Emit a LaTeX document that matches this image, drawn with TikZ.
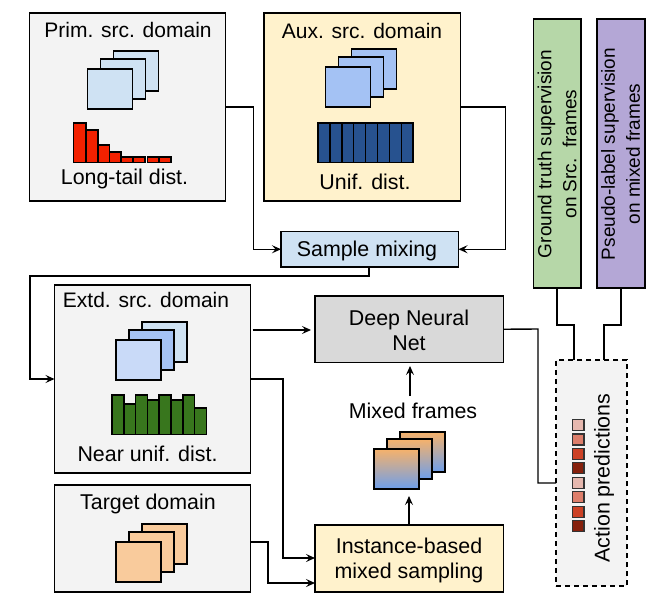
\documentclass[tikz,border=0pt]{standalone}
\usepackage{fontspec}
\setmainfont{Liberation Sans}
\usetikzlibrary{arrows.meta}
\definecolor{panelgrey}{HTML}{F3F3F3}
\definecolor{paleyellow}{HTML}{FFF2CC}
\definecolor{paleblue}{HTML}{CFE2F3}
\definecolor{midblue}{HTML}{A4C2F4}
\definecolor{lightblue}{HTML}{C9DAF8}
\definecolor{peach}{HTML}{F9CB9C}
\definecolor{netgrey}{HTML}{D9D9D9}
\definecolor{softgreen}{HTML}{B6D7A8}
\definecolor{softpurple}{HTML}{B4A7D6}
\definecolor{barred}{HTML}{F32100}
\definecolor{barblue}{HTML}{27528F}
\definecolor{bargreen}{HTML}{38761D}
\definecolor{gradtop}{HTML}{F6B26B}
\definecolor{gradbot}{HTML}{6D9EEB}
\definecolor{predA}{HTML}{E6B8AF}
\definecolor{predB}{HTML}{DD7E6B}
\definecolor{predC}{HTML}{CC4125}
\definecolor{predD}{HTML}{85200C}
\tikzset{
  panel/.style={draw=black,line width=1.5pt,rectangle,inner sep=0pt,outer sep=0pt,align=center},
  frameimg/.style={draw=black,line width=1.5pt},
  barline/.style={draw=black,line width=1.5pt},
  lbl/.style={font=\fontsize{21.4}{25}\selectfont,inner sep=0pt,align=center,text=black},
  domlbl/.style={font=\fontsize{21}{25}\selectfont,inner sep=0pt,align=center,text=black},
  sidelbl/.style={font=\fontsize{19}{25}\selectfont,inner sep=0pt,align=center,text=black,rotate=90},
  link/.style={draw=black,line width=1.4pt,line join=miter},
  linkto/.style={link,-{Stealth[length=9pt,width=8pt,inset=3.5pt]}},
}
\newcommand{\bx}[6]{%
  \pgfmathsetmacro{\bxw}{#4-#2}\pgfmathsetmacro{\bxh}{#5-#3}%
  \node[panel,minimum width=\bxw pt,minimum height=\bxh pt,#6] (#1) at ({(#2+#4)/2},{(#3+#5)/2}) {};}
\newcommand{\stk}[6]{% front x, y, colours back, mid, front, extra
  \path[frameimg,fill=#3,#6] (#1+26,#2-18) rectangle ++(45,40);
  \path[frameimg,fill=#4,#6] (#1+13,#2-10) rectangle ++(45,40);
  \path[frameimg,fill=#5,#6] (#1,#2) rectangle ++(45,40);}
\begin{document}
\begin{tikzpicture}[x=1pt,y=-1pt]
\useasboundingbox (0,0) rectangle (660,604);
% panels
\bx{prim}{29.5}{13}{225.5}{201}{fill=panelgrey}
\bx{aux}{264}{13}{460.5}{201}{fill=paleyellow}
\bx{mix}{281}{231.5}{458.5}{267}{fill=paleblue}
\bx{gt}{533.5}{19}{581}{288}{fill=softgreen}
\bx{pl}{597}{19}{645}{288}{fill=softpurple}
\bx{ext}{54.5}{285}{250.5}{473}{fill=panelgrey}
\bx{tgt}{54.5}{485}{250.5}{592}{fill=panelgrey}
\bx{dnn}{315}{296}{503.5}{362.5}{fill=netgrey}
\bx{ins}{315}{525}{503.5}{592}{fill=paleyellow}
\bx{act}{556}{360}{627}{586}{fill=panelgrey,dashed,dash pattern=on 5pt off 4pt}
% labels
\node[domlbl] (tprim) at (128,30) {Prim. src. domain};
\node[lbl] (tlong) at (124.5,179) {Long-tail dist.};
\node[domlbl] (taux) at (362,31) {Aux. src. domain};
\node[lbl] (tunif) at (365,182) {Unif. dist.};
\node[lbl] (tmix) at (367,251) {Sample mixing};
\node[sidelbl] (tgt1) at (557,154) {Ground truth supervision\\on Src.\ \ frames};
\node[sidelbl] (tpl1) at (620.5,154) {Pseudo-label supervision\\on mixed frames};
\node[domlbl] (text) at (146,300) {Extd. src. domain};
\node[lbl] (tnear) at (147.5,454) {Near unif. dist.};
\node[lbl] (ttgt) at (148,504) {Target domain};
\node[lbl] (tdnn) at (409,330) {Deep Neural\\Net};
\node[lbl] (tins) at (409,560.5) {Instance-based\\mixed sampling};
\node[lbl] (tmf) at (413,411) {Mixed frames};
\node[lbl,rotate=90] (tact) at (604,478) {Action predictions};
% frame stacks
\stk{87.5}{69}{paleblue}{paleblue}{paleblue}{}
\stk{325.5}{67}{midblue}{midblue}{midblue}{}
\stk{116}{340}{paleblue}{midblue}{lightblue}{}
\stk{116}{542}{peach}{peach}{peach}{}
\path[frameimg,top color=gradtop,bottom color=gradbot] (400,432) rectangle ++(45,40);
\path[frameimg,top color=gradtop,bottom color=gradbot] (387,439) rectangle ++(45,40);
\path[frameimg,top color=gradtop,bottom color=gradbot] (374,449) rectangle ++(45,40);
% long-tail histogram
\foreach \xa/\xb/\yt in {73.5/86/123,86/98/130,98/109.5/145,109.5/121/152,121/133/157,133/145/157,147.5/159/157,159/171/157}
  \path[barline,fill=barred] (\xa,\yt) rectangle (\xb,162.5);
% uniform histogram
\foreach \i in {0,...,7}
  \path[barline,fill=barblue] ({318+\i*11.9},123) rectangle ({318+(\i+1)*11.9},162.5);
% near-uniform histogram
\foreach \i/\yt in {0/395,1/404,2/395,3/400,4/395,5/400,6/395,7/408}
  \path[barline,fill=bargreen] ({112+\i*11.8},\yt) rectangle ({112+(\i+1)*11.8},434.5);
% prediction squares
\foreach \yc/\cc in {425/predA,439.5/predB,454/predC,468/predD,483/predA,497/predB,512/predC,526/predD}
  \path[draw=black!80,line width=1.4pt,fill=\cc] (572.5,\yc-5.5) rectangle ++(11.5,11);
% connectors
\coordinate (primturn) at (253.5,107);
\coordinate (auxturn) at (505.5,107);
\draw[linkto] (prim.east) -- (primturn) |- (mix.west);
\draw[linkto] (aux.east) -- (auxturn) |- (mix.east);
\coordinate (mixout) at (369,267);
\coordinate (mixdown) at (369,276);
\coordinate (mixleft) at (30,276);
\draw[linkto] (mixout) -- (mixdown) -- (mixleft) |- (ext.west);
\coordinate (extupper) at (250.5,330);
\coordinate (dnnleft) at (315,330);
\draw[linkto,shorten <=2pt,shorten >=4pt] (extupper) -- (dnnleft);
\coordinate (extturn) at (283,379);
\coordinate (insupper) at (315,558);
\draw[linkto] (ext.east) -- (extturn) |- (insupper);
\coordinate (tgtout) at (250.5,542);
\coordinate (tgtturn) at (268,542);
\coordinate (inslower) at (315,583);
\draw[linkto] (tgtout) -- (tgtturn) |- (inslower);
\coordinate (insup) at (409,525);
\coordinate (stackbase) at (409,496);
\draw[linkto] (insup) -- (stackbase);
\coordinate (mfup) at (410,396);
\coordinate (dnnbase) at (410,366);
\draw[linkto] (mfup) -- (dnnbase);
\coordinate (dnnturn) at (538,329);
\coordinate (actleft) at (556,483);
\draw[link] (dnn.east) -- (dnnturn) |- (actleft);
\coordinate (gtout) at (557,288);
\coordinate (gtjog) at (557,325);
\coordinate (gtjog2) at (574,325);
\coordinate (actgt) at (574,360);
\draw[link] (gtout) -- (gtjog) -- (gtjog2) -- (actgt);
\coordinate (plout) at (621,288);
\coordinate (pljog) at (621,325);
\coordinate (pljog2) at (604,325);
\coordinate (actpl) at (604,360);
\draw[link] (plout) -- (pljog) -- (pljog2) -- (actpl);
\end{tikzpicture}
\end{document}
